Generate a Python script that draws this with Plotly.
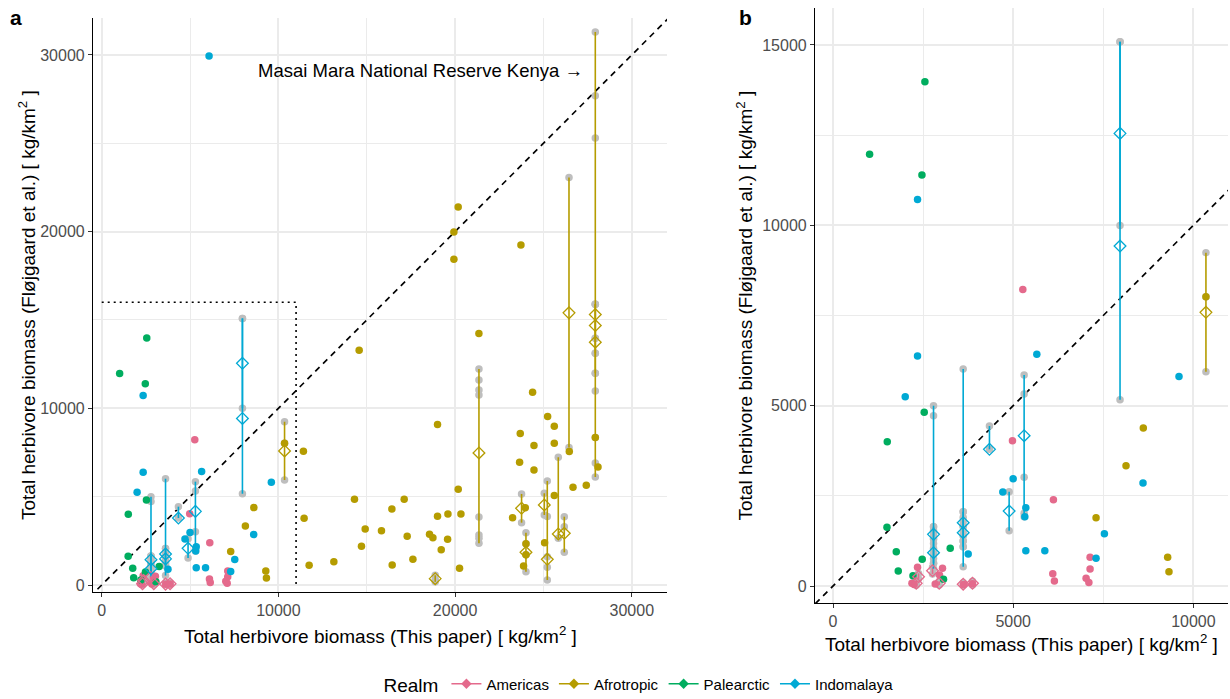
import plotly.graph_objects as go

# ---------------- data ----------------
realms = ["Americas", "Afrotropic", "Palearctic", "Indomalaya"]
realm_colors = ["#E46A8C", "#B59C00", "#00AD5F", "#00A9D4"]

# single estimates (x = This paper, y = Fløjgaard et al.)
am_x = [5267, 4979, 6116, 7133, 7133, 7022, 7100, 6098, 6143, 2345, 3038, 2955, 2190, 2836, 3620, 3870, 2250]
am_y = [8224, 4029, 2393, 795, 471, 213, 100, 341, 139, 518, 490, 305, 75, 55, 40, 60, 40]

af_x = [8610, 8130, 7299, 9286, 9322, 10348, 11416, 11455, 11739, 13138, 14570, 19006, 14306, 17119,
        16423, 14911, 15834, 14702, 17289, 16440, 17612, 18553, 18744, 19006, 19594, 20330, 19576,
        19215, 20177, 20251, 20176, 19932, 19932, 23726, 21348, 24386, 23253, 23688, 23650, 24464,
        24464, 25237, 25614, 25614, 25614, 26673, 27424, 28088, 26463, 25065, 23875, 23972, 24011,
        24011, 27935]
af_y = [4380, 3335, 1893, 795, 397, 8020, 7571, 3777, 1115, 1321, 13290, 9078, 4853, 4853,
        4304, 3171, 3077, 2190, 2757, 1133, 1453, 2870, 2680, 3889, 4021, 4021, 2586,
        2000, 5418, 945, 21387, 19972, 18443, 19236, 14230, 10912, 3813, 8570, 6946, 7890,
        6512, 9532, 8985, 8024, 5059, 5531, 5644, 6682, 7550, 2397, 1076, 4378, 2340,
        1717, 8342]

pa_x = [2550, 1015, 2467, 2531, 1505, 1497, 1755, 2475, 3252, 1810, 2218, 3066]
pa_y = [13980, 11967, 11393, 4815, 4001, 1627, 951, 739, 1044, 416, 286, 185]

im_x = [6076, 2345, 2345, 2004, 5655, 9600, 8602, 4998, 4712, 7530, 5350, 5322, 5350, 5877, 7299, 3751]
im_y = [29935, 10719, 6376, 5248, 6422, 5812, 2855, 2975, 2606, 1450, 2171, 1922, 979, 979, 767, 887]

single_x = [am_x, af_x, pa_x, im_x]
single_y = [am_y, af_y, pa_y, im_y]

# sites with several estimates: realm, x, individual estimates, centre (diamond)
grp_realm = ["Americas", "Americas", "Americas", "Americas", "Americas", "Americas",
             "Indomalaya", "Indomalaya", "Indomalaya", "Indomalaya", "Indomalaya",
             "Indomalaya", "Indomalaya", "Indomalaya", "Indomalaya",
             "Afrotropic", "Afrotropic", "Afrotropic", "Afrotropic", "Afrotropic",
             "Afrotropic", "Afrotropic", "Afrotropic", "Afrotropic", "Afrotropic",
             "Afrotropic", "Afrotropic", "Afrotropic"]
grp_x = [2309, 2373, 2761, 2947, 3612, 3870,
         2789, 2789, 3612, 3612, 4341, 4887, 5303, 7964, 7964,
         10348, 18875, 21350, 23762, 24011, 25048, 25218, 25840, 26180, 26446,
         27935, 27935, 27935]
grp_vals = [
    [150, 40, 20], [350, 200], [520, 330], [130, 30], [90, 20], [130, 30],
    [4999, 4721, 1644, 1530, 1420, 1300, 1180, 1050, 920, 760, 629],
    [1644, 1300, 920, 629, 480],
    [6015, 2060, 1900, 1780, 1650, 1500, 1380, 1250, 1090, 535],
    [2060, 1650, 1250, 1090],
    [4435, 3789],
    [2614, 1534],
    [5849, 5322, 3013, 2015, 1922],
    [15088, 9998],
    [15088, 5165],
    [9240, 8020, 5941],
    [550, 300, 180],
    [12231, 11609, 11043, 10760, 3851, 2832, 2644, 2360],
    [5153, 3528],
    [2962, 2340, 1717, 753],
    [5191, 3964],
    [5890, 3870, 1604, 1000, 283],
    [7230, 2640],
    [3868, 3303, 1850],
    [23063, 7777],
    [31296, 27690, 25294, 15894, 13970, 13120, 11988, 10986, 8342, 6909, 6116],
    [15894, 13970, 13120],
    [15894, 11988],
]
grp_mid = [75, 258, 425, 75, 50, 75,
           1432, 924, 1755, 1478, 3789, 2079, 4167, 12549, 9425,
           7587, 359, 7475, 4342, 1850, 4530, 1453, 2888, 2926, 15402,
           15306, 14683, 13743]

diag = [-2000, 34000]
box_x = [0, 11000, 11000]
box_y = [16000, 16000, 0]

note_text = "Masai Mara National Reserve Kenya \u2192"
note_x, note_y = 27367, 29105

# ---------------- figure ----------------
FONT = "Liberation Sans, Arial, sans-serif"
GRAY = "#BEBEBE"
fig = go.Figure()


def add_panel(xa, ya, with_box):
    fig.add_trace(go.Scatter(x=diag, y=diag, mode="lines", xaxis=xa, yaxis=ya,
                             line=dict(color="black", width=1.7, dash="6px,5px"),
                             showlegend=False, hoverinfo="skip"))
    if with_box:
        fig.add_trace(go.Scatter(x=box_x, y=box_y, mode="lines", xaxis=xa, yaxis=ya,
                                 line=dict(color="black", width=1.6, dash="2px,4px"),
                                 showlegend=False, hoverinfo="skip"))
    # gray individual estimates
    gx, gy = [], []
    for x, vals in zip(grp_x, grp_vals):
        gx += [x] * len(vals)
        gy += vals
    fig.add_trace(go.Scatter(x=gx, y=gy, mode="markers", xaxis=xa, yaxis=ya,
                             marker=dict(color=GRAY, size=7.5), showlegend=False))
    for r, col in zip(realms, realm_colors):
        lx, ly = [], []
        for rr, x, vals in zip(grp_realm, grp_x, grp_vals):
            if rr == r:
                lx += [x, x, None]
                ly += [min(vals), max(vals), None]
        if lx:
            fig.add_trace(go.Scatter(x=lx, y=ly, mode="lines", xaxis=xa, yaxis=ya,
                                     line=dict(color=col, width=1.6), showlegend=False))
    for r, col, sx, sy in zip(realms, realm_colors, single_x, single_y):
        fig.add_trace(go.Scatter(x=sx, y=sy, mode="markers", xaxis=xa, yaxis=ya,
                                 marker=dict(color=col, size=7.5), showlegend=False))
    for r, col in zip(realms, realm_colors):
        dx = [x for rr, x in zip(grp_realm, grp_x) if rr == r]
        dy = [m for rr, m in zip(grp_realm, grp_mid) if rr == r]
        if dx:
            fig.add_trace(go.Scatter(x=dx, y=dy, mode="markers", xaxis=xa, yaxis=ya,
                                     marker=dict(symbol="diamond-open", color=col, size=9,
                                                 line=dict(width=1.3, color=col)),
                                     showlegend=False))


add_panel("x", "y", True)
add_panel("x2", "y2", False)

# legend entries
for r, col in zip(realms, realm_colors):
    fig.add_trace(go.Scatter(x=[None], y=[None], mode="lines+markers", name=r,
                             line=dict(color=col, width=1.6),
                             marker=dict(symbol="diamond", color=col, size=8)))

W, H = 1230, 699


def px_x(p):
    return p / W


def px_y(p):
    return 1 - p / H


axis_common = dict(showgrid=True, gridcolor="#EBEBEB", gridwidth=1.6, zeroline=False,
                   showline=True, linecolor="black", linewidth=1.2,
                   ticks="outside", ticklen=4, tickcolor="#333333", tickwidth=1.1,
                   tickformat="d",
                   tickfont=dict(size=16, color="#4D4D4D", family=FONT))

fig.update_layout(
    width=W, height=H,
    margin=dict(l=0, r=0, t=0, b=0, autoexpand=False),
    paper_bgcolor="white", plot_bgcolor="white",
    font=dict(family=FONT, color="black"),
    xaxis=dict(domain=[px_x(93), px_x(667)], range=[-493, 31993], anchor="y",
               tickvals=[0, 10000, 20000, 30000],
               minor=dict(tickvals=[5000, 15000, 25000], showgrid=True,
                          gridcolor="#EBEBEB", gridwidth=0.9, ticks=""),
               **axis_common),
    yaxis=dict(domain=[px_y(592), px_y(18)], range=[-396, 32090], anchor="x",
               tickvals=[0, 10000, 20000, 30000],
               minor=dict(tickvals=[5000, 15000, 25000], showgrid=True,
                          gridcolor="#EBEBEB", gridwidth=0.9, ticks=""),
               **axis_common),
    xaxis2=dict(domain=[px_x(815), px_x(1228)], range=[-500, 10960], anchor="y2",
                tickvals=[0, 5000, 10000],
                minor=dict(tickvals=[2500, 7500], showgrid=True,
                           gridcolor="#EBEBEB", gridwidth=0.9, ticks=""),
                **axis_common),
    yaxis2=dict(domain=[px_y(603), px_y(8)], range=[-471, 16025], anchor="x2",
                tickvals=[0, 5000, 10000, 15000],
                minor=dict(tickvals=[2500, 7500, 12500], showgrid=True,
                           gridcolor="#EBEBEB", gridwidth=0.9, ticks=""),
                **axis_common),
    legend=dict(orientation="h", x=px_x(640), xanchor="center", y=px_y(685), yanchor="middle",
                title=dict(text="Realm", font=dict(size=19, family=FONT)),
                font=dict(size=15, family=FONT), bgcolor="rgba(0,0,0,0)"),
    showlegend=True,
)

xt = "Total herbivore biomass (This paper) [ kg/km<sup>2</sup> ]"
yt = "Total herbivore biomass (Fløjgaard et al.) [ kg/km<sup>2</sup> ]"
ann = [
    dict(text=xt, x=px_x(380), y=px_y(635), textangle=0),
    dict(text=xt, x=px_x(1021.5), y=px_y(643), textangle=0),
    dict(text=yt, x=px_x(27), y=px_y(305), textangle=-90),
    dict(text=yt, x=px_x(744), y=px_y(305.5), textangle=-90),
]
for a in ann:
    fig.add_annotation(xref="paper", yref="paper", showarrow=False,
                       xanchor="center", yanchor="middle",
                       font=dict(size=19, family=FONT, color="black"), **a)
fig.add_annotation(xref="paper", yref="paper", x=px_x(16), y=px_y(18), text="<b>a</b>",
                   showarrow=False, xanchor="center", yanchor="middle",
                   font=dict(size=21, family=FONT, color="black"))
fig.add_annotation(xref="paper", yref="paper", x=px_x(745), y=px_y(18), text="<b>b</b>",
                   showarrow=False, xanchor="center", yanchor="middle",
                   font=dict(size=21, family=FONT, color="black"))
fig.add_annotation(xref="x", yref="y", x=note_x, y=note_y, text=note_text,
                   showarrow=False, xanchor="right", yanchor="middle",
                   font=dict(size=18.5, family=FONT, color="black"))

fig.write_html("out.html")
